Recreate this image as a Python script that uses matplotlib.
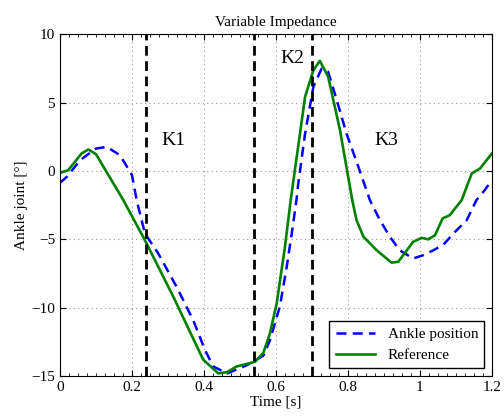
import matplotlib
matplotlib.use('Agg')
import matplotlib.pyplot as plt
from matplotlib import ticker

# reference trajectory (green)
ref_t = [0, 0.023, 0.06, 0.079, 0.10, 0.176, 0.236, 0.315, 0.398, 0.44, 0.465, 0.49,
         0.542, 0.565, 0.583, 0.602, 0.625, 0.641, 0.681, 0.704, 0.722, 0.745, 0.778,
         0.812, 0.824, 0.843, 0.88, 0.921, 0.94, 0.981, 1.005, 1.023, 1.042, 1.063,
         1.083, 1.116, 1.144, 1.167, 1.2]
ref_y = [-0.14, 0.06, 1.28, 1.57, 1.23, -2.13, -5.06, -9.2, -13.8, -14.8, -14.7, -14.3,
         -13.95, -13.3, -11.9, -9.7, -5.55, -2.13, 5.42, 7.37, 8.05, 6.9, 2.98,
         -2.13, -3.6, -4.8, -5.8, -6.7, -6.64, -5.18, -4.89, -5.0, -4.7, -3.47,
         -3.23, -2.13, -0.18, 0.18, 1.28]

# measured ankle position (blue dashed)
ank_t = [0, 0.019, 0.056, 0.10, 0.13, 0.167, 0.2, 0.213, 0.236, 0.273, 0.324, 0.37,
         0.403, 0.426, 0.465, 0.519, 0.565, 0.583, 0.611, 0.63, 0.644, 0.657, 0.662,
         0.681, 0.704, 0.727, 0.745, 0.769, 0.796, 0.829, 0.861, 0.889, 0.917, 0.944,
         0.981, 1.01, 1.037, 1.065, 1.093, 1.13, 1.157, 1.18, 1.2]
ank_y = [-0.87, -0.43, 0.79, 1.64, 1.76, 1.15, -0.3, -2.13, -4.57, -6.03, -8.47, -10.9,
         -13.1, -14.3, -14.8, -14.2, -13.5, -12.4, -9.9, -7.0, -4.57, -2.13, -0.92,
         2.74, 6.15, 7.49, 7.25, 5.18, 2.74, 0.3, -2.13, -3.6, -4.82, -5.8,
         -6.4, -6.15, -5.8, -5.4, -4.57, -3.6, -2.13, -1.4, -0.67]

switch_t = [0.24, 0.54, 0.70]
phase_labels = ['K1', 'K2', 'K3']
phase_pos = [(0.314, 2.2), (0.647, 8.25), (0.906, 2.2)]

plt.rcParams['font.family'] = ['Liberation Serif', 'DejaVu Serif']

fig = plt.figure(figsize=(5.04, 4.17), dpi=100)
ax = fig.add_axes([0.119, 0.098, 0.857, 0.82])

ax.plot(ank_t, ank_y, '--', color='blue', linewidth=1.8, dashes=(4, 2.5), label='Ankle position')
ax.plot(ref_t, ref_y, '-', color='#008000', linewidth=1.9, label='Reference')

for t in switch_t:
    ax.axvline(t, color='black', linestyle='--', linewidth=2, dashes=(3.5, 2))

for lab, (x, y) in zip(phase_labels, phase_pos):
    ax.text(x, y, lab, fontsize=14, ha='center', va='center')

ax.set_xlim(0, 1.2)
ax.set_ylim(-15, 10)
ax.set_xticks([0, 0.2, 0.4, 0.6, 0.8, 1, 1.2])
ax.set_xticklabels(['0', '0.2', '0.4', '0.6', '0.8', '1', '1.2'])
ax.set_yticks([-15, -10, -5, 0, 5, 10])
ax.set_yticklabels(['\u221215', '\u221210', '\u22125', '0', '5', '10'])
ax.xaxis.set_minor_locator(ticker.MultipleLocator(0.025))
ax.tick_params(which='both', direction='in', top=True, right=True, labelsize=11)
ax.tick_params(which='major', length=4)
ax.tick_params(which='minor', length=2)
ax.grid(True, which='major', linestyle=(0, (1, 3)), color='#999999', linewidth=0.8)

ax.set_xlabel('Time [s]', fontsize=11, labelpad=1)
ax.set_ylabel('Ankle joint [\u00b0]', fontsize=11, labelpad=2)
ax.set_title('Variable Impedance', fontsize=11, pad=6)

leg = ax.legend(loc='lower right', fontsize=11, fancybox=False, framealpha=1,
                edgecolor='black', handlelength=2.6, borderaxespad=0.5)
leg.get_frame().set_linewidth(1)

plt.savefig('out.png', dpi=100)
